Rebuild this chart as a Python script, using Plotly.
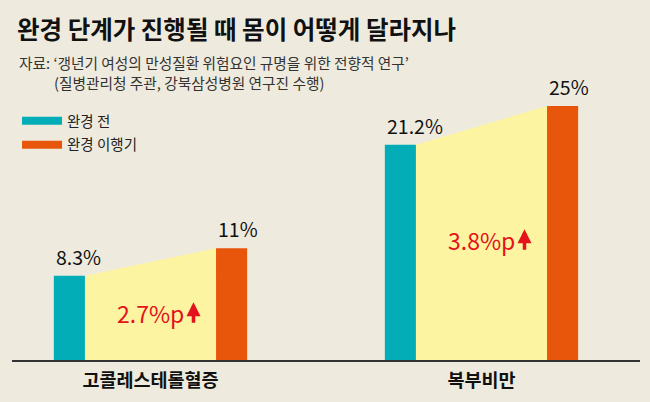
import plotly.graph_objects as go

# data
categories = ["고콜레스테롤혈증", "복부비만"]
series_names = ["완경 전", "완경 이행기"]
before = [8.3, 21.2]
after = [11, 25]
before_labels = ["8.3%", "21.2%"]
after_labels = ["11%", "25%"]
diff_labels = ["2.7%p", "3.8%p"]

BG = "#EEEBDE"
TEAL = "#02ADB8"
ORANGE = "#E8560B"
YELLOW = "#FCF4A0"
RED = "#E3121B"
FONT = "Noto Sans CJK KR"

idx = list(range(len(categories)))
OFF = 0.245   # bar centre distance from category centre
W = 0.094     # bar width

fig = go.Figure()

# yellow band joining the two bars of each category
for i in idx:
    fig.add_trace(go.Scatter(
        x=[i - OFF + W / 2, i + OFF - W / 2, i + OFF - W / 2, i - OFF + W / 2],
        y=[before[i], after[i], 0, 0],
        fill="toself", fillcolor=YELLOW, mode="lines",
        line=dict(width=0, color=YELLOW), hoverinfo="skip", showlegend=False))

fig.add_trace(go.Bar(x=idx, y=before, offset=-OFF - W / 2, width=W,
                     marker=dict(color=TEAL, line_width=0), name=series_names[0], showlegend=False))
fig.add_trace(go.Bar(x=idx, y=after, offset=OFF - W / 2, width=W,
                     marker=dict(color=ORANGE, line_width=0), name=series_names[1], showlegend=False))

# legend entries drawn as thick line swatches
for name, col in zip(series_names, [TEAL, ORANGE]):
    fig.add_trace(go.Scatter(x=[None], y=[None], mode="lines", name=name,
                             legendgroup=name, line=dict(color=col, width=8)))

for i in idx:
    fig.add_annotation(x=i - OFF - W / 2, y=before[i], text=before_labels[i], showarrow=False,
                       xanchor="left", yanchor="bottom", yshift=3,
                       font=dict(size=19.5, color="#111111"))
    fig.add_annotation(x=i + OFF - W / 2, y=after[i], text=after_labels[i], showarrow=False,
                       xanchor="left", yanchor="bottom", yshift=3,
                       font=dict(size=19.5, color="#111111"))
    # difference label plus a bold red up arrow
    fig.add_annotation(x=i, y=before[i] * 0.556, showarrow=False, text=diff_labels[i],
                       font=dict(size=23, color=RED))
    fig.add_annotation(x=i, y=before[i] * 0.556, xshift=43, yshift=11, text="",
                       showarrow=True, ax=0, ay=22, arrowhead=2, arrowsize=0.8,
                       arrowwidth=3.5, arrowcolor=RED, standoff=0, startstandoff=0)

fig.add_annotation(xref="paper", yref="paper", x=0.008, y=1.146, xanchor="left", yanchor="middle",
                   showarrow=False, font=dict(size=14.7, color="#333333"),
                   text="자료: ‘갱년기 여성의 만성질환 위험요인 규명을 위한 전향적 연구’")
fig.add_annotation(xref="paper", yref="paper", x=0.0637, y=1.069, xanchor="left", yanchor="middle",
                   showarrow=False, font=dict(size=14.7, color="#333333"),
                   text="(질병관리청 주관, 강북삼성병원 연구진 수행)")

fig.update_layout(
    width=650, height=402,
    margin=dict(l=12, r=10, t=100, b=42),
    paper_bgcolor=BG, plot_bgcolor=BG,
    font=dict(family=FONT, color="#111111"),
    barmode="overlay",
    title=dict(text="완경 단계가 진행될 때 몸이 어떻게 달라지나",
               x=17 / 650, xref="container", xanchor="left",
               y=1 - 30 / 402, yref="container", yanchor="middle",
               font=dict(size=24.5, weight="bold", color="#111111")),
    legend=dict(x=0.008, y=0.981, xanchor="left", yanchor="top",
                bgcolor="rgba(0,0,0,0)", font=dict(size=14.5, color="#222222"),
                tracegroupgap=2, itemwidth=40),
    showlegend=True,
)
fig.update_xaxes(range=[-0.4184, 1.4789], tickvals=idx, ticktext=categories,
                 showline=True, linecolor="#333333", linewidth=1.5,
                 showgrid=False, zeroline=False, ticks="", ticklabelstandoff=3,
                 tickfont=dict(size=18.5, weight="bold", color="#111111"))
fig.update_yaxes(range=[0, 25.6], visible=False)

fig.write_html("out.html", config={"displayModeBar": False},
               post_script="document.body.style.margin='0';document.body.style.overflow='hidden';")
